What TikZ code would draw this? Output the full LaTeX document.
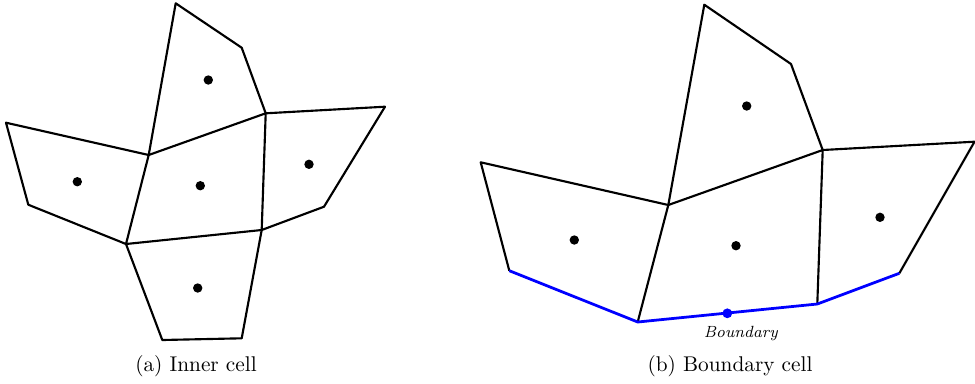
\documentclass[tikz,border=0pt]{standalone}
\usetikzlibrary{positioning}
\tikzset{
  edge/.style={line width=1pt,line join=round},
  bnd/.style={line width=1.3pt,blue,line join=round},
  site/.style={circle,fill=black,inner sep=0pt,minimum size=4.4pt},
  bsite/.style={circle,fill=blue,inner sep=0pt,minimum size=4.6pt},
}
\begin{document}
\begin{tikzpicture}[x=0.0165cm,y=-0.0165cm]
\useasboundingbox (0,0) rectangle (975,383);
% (a) inner cell
\coordinate (at) at (175.7,3.3);
\coordinate (aur) at (241.7,47.7);
\coordinate (aA) at (265.7,113.3);
\coordinate (afrt) at (385,106.7);
\coordinate (afrb) at (324,206.7);
\coordinate (aB) at (261.7,230);
\coordinate (abr) at (241.7,338.3);
\coordinate (abl) at (162.3,340);
\coordinate (aC) at (126,244);
\coordinate (all) at (28.3,204.7);
\coordinate (alt) at (6,122.7);
\coordinate (aD) at (148.7,155);
\draw[edge] (aD) -- (at) -- (aur) -- (aA) -- (afrt) -- (afrb) -- (aB) -- (abr) -- (abl) -- (aC) -- (all) -- (alt) -- cycle;
\draw[edge] (aD) -- (aA) -- (aB) -- (aC) -- (aD);
\node[site] (asite1) at (208.3,80) {};
\node[site] (asite2) at (77.3,181.7) {};
\node[site] (asite3) at (200.3,185.7) {};
\node[site] (asite4) at (309,164.3) {};
\node[site] (asite5) at (197.7,288) {};
\node (capa) at (196,366) {(a) Inner cell};

% (b) boundary cell
\coordinate (bt) at (704.3,4.7);
\coordinate (bur) at (791,64);
\coordinate (bA) at (822.7,150);
\coordinate (bfrt) at (974.5,141.7);
\coordinate (bfrb) at (899.3,273.3);
\coordinate (bB) at (817.3,304);
\coordinate (bC) at (637.7,322);
\coordinate (bll) at (509.3,270.7);
\coordinate (blt) at (480.7,162.3);
\coordinate (bD) at (668.3,205);
\draw[edge] (bll) -- (blt) -- (bD) -- (bt) -- (bur) -- (bA) -- (bfrt) -- (bfrb);
\draw[edge] (bD) -- (bA) -- (bB);
\draw[edge] (bD) -- (bC);
\draw[bnd] (bll) -- (bC) -- (bB) -- (bfrb);
\node[site] (bsite1) at (746.7,106) {};
\node[site] (bsite2) at (574.3,240) {};
\node[site] (bsite3) at (736,245.7) {};
\node[site] (bsite4) at (880,217.3) {};
\node[bsite] (bpt) at (727.3,313.3) {};
\node (blabel) at (741,334) {\fontsize{7.6}{9}\selectfont\textit{Boundary}};
\node (capb) at (730,366) {(b) Boundary cell};
\end{tikzpicture}
\end{document}
